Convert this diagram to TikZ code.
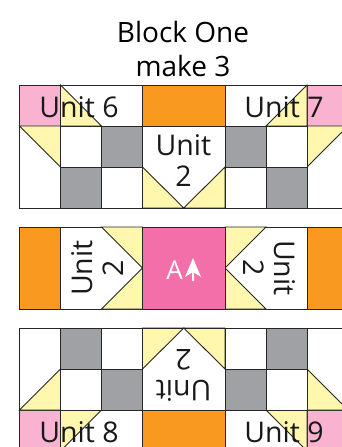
\documentclass[tikz,border=0pt]{standalone}
\usepackage{fontspec}
\setmainfont{Open Sans}
\usepackage{tikz}
\usetikzlibrary{positioning}

\begin{document}
\begin{tikzpicture}[x=1pt, y=-1pt,
        parche/.style={draw=black!85, line width=0.9pt},
        rosa/.style={parche, fill=pinkclaro},
        amarillo/.style={parche, fill=amarilloclaro},
        naranja/.style={parche, fill=naranjaclaro},
        gris/.style={parche, fill=grisclaro},
        blanco/.style={parche, fill=white},
        centro/.style={parche, fill=rosafuerte},
        rotulo/.style={inner sep=0pt, align=center, font=\fontsize{28.5}{31}\selectfont, text=black!90},
        titulo/.style={inner sep=0pt, align=center, font=\fontsize{28}{34}\selectfont}]
    \definecolor{pinkclaro}{HTML}{F9B2CF}
    \definecolor{amarilloclaro}{HTML}{FFF7AD}
    \definecolor{naranjaclaro}{HTML}{F9991F}
    \definecolor{grisclaro}{HTML}{9FA1A4}
    \definecolor{rosafuerte}{HTML}{F36FA9}
    \clip (0,0) rectangle (342,447);
    \fill[white] (0,0) rectangle (342,447);

    % top block, the right half is the left one mirrored
    \foreach \lado in {1,-1} {
        \begin{scope}[shift={(183.75,0)}, xscale=\lado, shift={(-183.75,0)}]
            \draw[rosa] (19.5,85) rectangle (60.5,126);
            \draw[blanco] (60.5,85) rectangle (142.5,126);
            \draw[amarillo] (60.5,85) -- (101.5,126) -- (60.5,126) -- cycle;
            \draw[blanco] (19.5,126) rectangle (60.5,208);
            \draw[amarillo] (19.5,126) -- (60.5,126) -- (60.5,167) -- cycle;
            \draw[blanco] (60.5,126) rectangle (101.5,167);
            \draw[gris] (101.5,126) rectangle (142.5,167);
            \draw[gris] (60.5,167) rectangle (101.5,208);
            \draw[blanco] (101.5,167) rectangle (142.5,208);
            \draw[amarillo] (142.5,167) -- (183.75,208) -- (142.5,208) -- cycle;
        \end{scope}
    }
    \draw[naranja] (142.5,85) rectangle (225,126);
    \draw[parche] (142.5,126) -- (142.5,208) -- (225,208) -- (225,126);

    % middle block
    \foreach \lado in {1,-1} {
        \begin{scope}[shift={(183.75,0)}, xscale=\lado, shift={(-183.75,0)}]
            \draw[naranja] (19.5,227) rectangle (60.5,309);
            \draw[blanco] (60.5,227) rectangle (142.5,309);
            \draw[amarillo] (101.5,227) -- (142.5,227) -- (142.5,268) -- cycle;
            \draw[amarillo] (142.5,268) -- (142.5,309) -- (101.5,309) -- cycle;
        \end{scope}
    }
    \draw[centro] (142.5,227) rectangle (225,309);

    % bottom block
    \foreach \lado in {1,-1} {
        \begin{scope}[shift={(183.75,0)}, xscale=\lado, shift={(-183.75,0)}]
            \draw[rosa] (19.5,410) rectangle (60.5,451);
            \draw[blanco] (60.5,410) rectangle (142.5,451);
            \draw[amarillo] (60.5,410) -- (101.5,410) -- (60.5,451) -- cycle;
            \draw[blanco] (19.5,328) rectangle (60.5,410);
            \draw[amarillo] (60.5,369) -- (60.5,410) -- (19.5,410) -- cycle;
            \draw[blanco] (60.5,369) rectangle (101.5,410);
            \draw[gris] (101.5,369) rectangle (142.5,410);
            \draw[gris] (60.5,328) rectangle (101.5,369);
            \draw[blanco] (101.5,328) rectangle (142.5,369);
            \draw[amarillo] (142.5,369) -- (183.75,328) -- (142.5,328) -- cycle;
        \end{scope}
    }
    \draw[naranja] (142.5,410) rectangle (225,451);
    \draw[parche] (142.5,328) -- (225,328);
    \draw[parche] (142.5,328) -- (142.5,410) -- (225,410) -- (225,328);

    \node[titulo] (bloque) at (183,49) {Block One\\make 3};
    \node[rotulo] (u6) at (79,107) {Unit 6};
    \node[rotulo] (u7) at (284,107) {Unit 7};
    \node[rotulo] (u2a) at (183.5,161) {Unit\\2};
    \node[rotulo, rotate=90] (u2b) at (98,268) {Unit\\2};
    \node[rotulo, rotate=-90] (u2c) at (269,268) {Unit\\2};
    \node[rotulo, rotate=180] (u2d) at (183.5,375) {Unit\\2};
    \node[rotulo] (u8) at (79,432) {Unit 8};
    \node[rotulo] (u9) at (284,432) {Unit 9};
    \node[inner sep=0pt, text=white, font=\fontsize{26}{26}\selectfont] (letra) at (174.5,270) {A};
    \fill[white] (193,258) -- (201,277) -- (194,272.5) -- (194,281) -- (192,281) -- (192,272.5) -- (185,277) -- cycle;
\end{tikzpicture}
\end{document}
